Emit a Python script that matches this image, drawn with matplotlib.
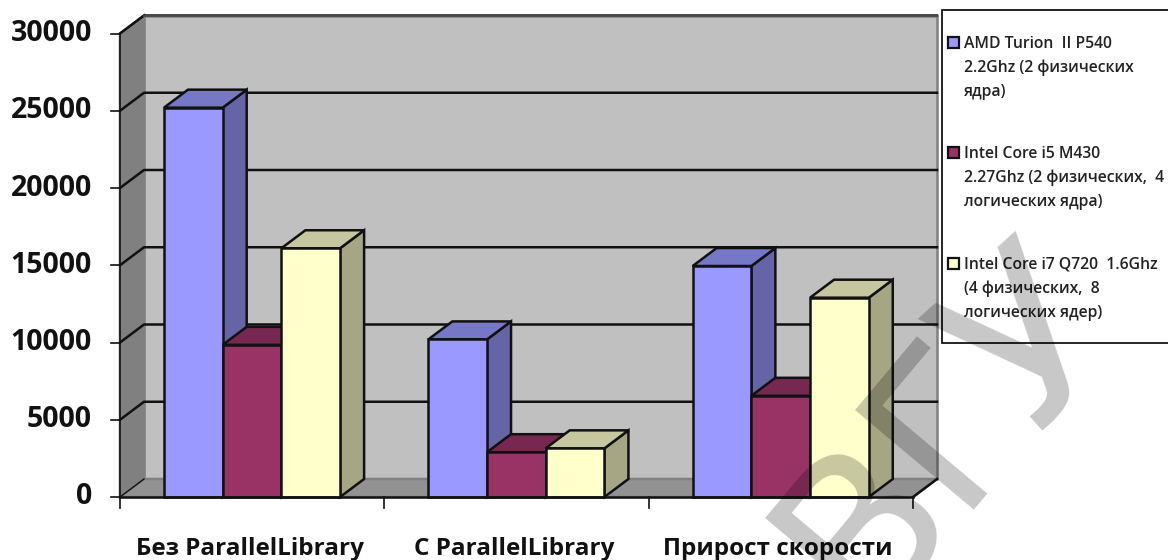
import matplotlib
matplotlib.use("Agg")
import matplotlib.pyplot as plt
from matplotlib.patches import Polygon, Rectangle

W, H = 1168, 560

categories = ["Без ParallelLibrary", "С ParallelLibrary", "Прирост скорости"]
series_names = [
    "AMD Turion  II P540\n2.2Ghz (2 физических\nядра)",
    "Intel Core i5 M430\n2.27Ghz (2 физических,  4\nлогических ядра)",
    "Intel Core i7 Q720  1.6Ghz\n(4 физических,  8\nлогических ядер)",
]
amd = [25200, 10200, 14950]
i5 = [9850, 2900, 6550]
i7 = [16100, 3150, 12900]
yticks = [0, 5000, 10000, 15000, 20000, 25000, 30000]

front = ["#9999ff", "#993366", "#ffffcc"]
side = ["#6464a6", "#642142", "#a6a685"]
top = ["#7777c7", "#772850", "#c7c79f"]

fig = plt.figure(figsize=(W / 100, H / 100), dpi=100)
plt.rcParams["font.family"] = ["Open Sans", "DejaVu Sans"]
ax = fig.add_axes([120 / W, 1 - 497 / H, 793 / W, 463.5 / H])
ax.set_xlim(0, 3)
ax.set_ylim(0, 30000)
ax.axis("off")

# depth of the fake 3d box, in data units
dx = 24 / (793 / 3)
dy = 18 / (463.5 / 30000)
LW = 1.8


def poly(pts, fc, z, ec="#111111", lw=LW):
    ax.add_patch(Polygon(pts, closed=True, fc=fc, ec=ec, lw=lw, zorder=z, clip_on=False))


# walls and floor
poly([(dx, dy), (3 + dx, dy), (3 + dx, 30000 + dy), (dx, 30000 + dy)], "#c0c0c0", 1, ec="#808080")
poly([(0, 0), (dx, dy), (dx, 30000 + dy), (0, 30000)], "#808080", 1, ec="#808080")
poly([(0, 0), (3, 0), (3 + dx, dy), (dx, dy)], "#929292", 1, ec="#808080")

for v in yticks[1:]:
    ax.plot([0, dx, 3 + dx], [v, v + dy, v + dy], color="#111111", lw=LW, zorder=2, clip_on=False)
ax.plot([0, 3], [0, 0], color="#111111", lw=LW, zorder=8, clip_on=False)
ax.plot([0, dx], [0, dy], color="#111111", lw=1, zorder=2, clip_on=False)
ax.plot([3, 3 + dx], [0, dy], color="#111111", lw=LW, zorder=2, clip_on=False)
ax.plot([0, 0], [0, 30000], color="#111111", lw=1.2, zorder=2, clip_on=False)
ax.plot([0, dx], [30000, 30000 + dy], color="#111111", lw=1, zorder=2, clip_on=False)
ax.plot([dx, 3 + dx], [30000 + dy, 30000 + dy], color="#555555", lw=1.2, zorder=2, clip_on=False)

# ticks and labels
for v in yticks:
    ax.plot([-9 / (793 / 3), 0], [v, v], color="#111111", lw=1.2, clip_on=False)
    ax.text(-28 / (793 / 3), v, str(v), ha="right", va="center", fontsize=20.5,
            fontweight="bold", color="#111111")
for i in range(4):
    ax.plot([i, i], [0, -11 / (463.5 / 30000)], color="#111111", lw=1.2, clip_on=False)
for i, name in enumerate(categories):
    ax.text(i + 0.5 - 0.01, -52 / (463.5 / 30000), name, ha="center", va="center", fontsize=17.5,
            fontweight="bold", color="#111111")

# bars
bar_w = 58.7 / (793 / 3)
offset = 44 / (793 / 3)
for i in range(3):
    for j, vals in enumerate([amd, i5, i7]):
        v = vals[i]
        x0 = i + offset + j * bar_w
        x1 = x0 + bar_w
        z = 3 + j
        poly([(x1, 0), (x1 + dx, dy), (x1 + dx, v + dy), (x1, v)], side[j], z)
        poly([(x0, v), (x1, v), (x1 + dx, v + dy), (x0 + dx, v + dy)], top[j], z)
        poly([(x0, 0), (x1, 0), (x1, v), (x0, v)], front[j], z)

# legend
fig.add_artist(Rectangle((942 / W, 1 - 343 / H), 240 / W, 333 / H, transform=fig.transFigure,
                         fc="white", ec="black", lw=1.2, zorder=10))
legend_y = [43, 153, 264]
for name, color, y in zip(series_names, front, legend_y):
    fig.add_artist(Rectangle((948 / W, 1 - (y + 5) / H), 11 / W, 11 / H, transform=fig.transFigure,
                             fc=color, ec="#111111", lw=1.6, zorder=11))
    fig.text(964 / W, 1 - (y - 7) / H, name, ha="left", va="top", fontsize=11.3,
             fontweight="semibold", color="#222222", linespacing=1.62, zorder=11)

# watermark over everything, letters set one by one because it is spread out
for letter, px, py, size, angle in [("В", 863, 618, 153, 50), ("Г", 953, 510, 153, 50), ("У", 1025, 443, 165, 42)]:
    fig.text(px / W, 1 - py / H, letter, rotation=angle, rotation_mode="anchor", ha="left", va="baseline",
             fontsize=size, fontfamily="DejaVu Sans", color="black", alpha=0.22, zorder=20)

fig.savefig("out.png", dpi=100)
